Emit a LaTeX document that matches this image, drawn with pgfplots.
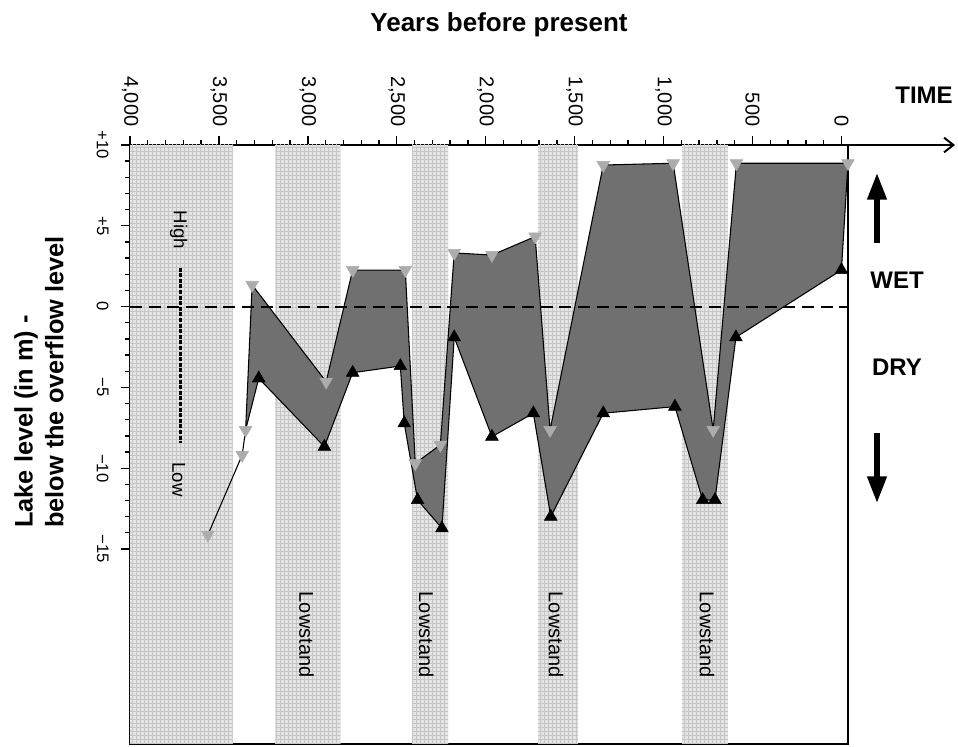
\documentclass[border=0pt]{standalone}
\usepackage{pgfplots}
\pgfplotsset{compat=1.18}
\usepackage{fontspec}
\setmainfont{Liberation Sans}
\usetikzlibrary{patterns,arrows.meta}
\definecolor{fillgray}{RGB}{112,112,112}
\definecolor{tri}{RGB}{172,172,172}
\definecolor{band}{RGB}{228,228,228}
\newcommand\xtl{\fontsize{15}{18}\selectfont}
\newcommand\ytl{\fontsize{12.5}{15}\selectfont}

\pgfplotstableread{
x y
3562 -14.13
3369 -9.18
3350 -7.64
3313 1.34
2897 -4.65
2748 2.26
2452 2.26
2396 -9.70
2255 -8.56
2177 3.32
1965 3.19
1722 4.33
1638 -7.64
1339 8.76
946 8.87
721 -7.64
590 8.87
-37 8.87
}\uppertab

\pgfplotstableread{
x y
3276 -4.44
2907 -8.67
2748 -4.09
2480 -3.68
2458 -7.22
2383 -11.97
2246 -13.72
2177 -1.90
1965 -8.05
1732 -6.60
1634 -13.0
1339 -6.60
936 -6.19
780 -11.97
711 -11.97
593 -1.90
0 2.26
}\lowertab

\begin{document}
\begin{tikzpicture}
\useasboundingbox (-97.5pt,-2.25pt) rectangle (621pt,558pt);
\begin{axis}[
  at={(0pt,0pt)}, anchor=south west,
  scale only axis, width=538.5pt, height=449.25pt,
  x dir=reverse, xmin=-37, xmax=4000, ymin=-27.07, ymax=10,
  clip=false,
  axis line style={line width=1.7pt},
  xtick={0,500,...,4000}, minor x tick num=4,
  xticklabels={\xtl 0,\xtl 500,\xtl 1{,}000,\xtl 1{,}500,\xtl 2{,}000,\xtl 2{,}500,\xtl 3{,}000,\xtl 3{,}500,\xtl 4{,}000},
  ytick={-15,-10,-5,0,5,10},
  yticklabels={\ytl −15,\ytl −10,\ytl −5,\ytl 0,\ytl +5,\ytl +10},
  minor y tick num=4,
  xtick pos=right, xticklabel pos=right,
  ytick pos=left, yticklabel pos=left,
  tick align=outside,
  major tick length=7pt, minor tick length=3.5pt,
  tick style={line width=1pt, black},
  xticklabel shift=3.5pt,
  yticklabel shift=5.5pt,
  xticklabel style={rotate=-90, anchor=east},
  yticklabel style={rotate=-90, anchor=north},
]
% lowstand / shaded bands
\addplot[draw=none, fill=band, postaction={pattern=grid, pattern color=gray!45}]
  coordinates {(4000,-27.07) (3423,-27.07) (3423,10) (4000,10)} -- cycle;
\addplot[draw=none, fill=band, postaction={pattern=grid, pattern color=gray!45}]
  coordinates {(3182,-27.07) (2817,-27.07) (2817,10) (3182,10)} -- cycle;
\addplot[draw=none, fill=band, postaction={pattern=grid, pattern color=gray!45}]
  coordinates {(2413,-27.07) (2211,-27.07) (2211,10) (2413,10)} -- cycle;
\addplot[draw=none, fill=band, postaction={pattern=grid, pattern color=gray!45}]
  coordinates {(1705,-27.07) (1481,-27.07) (1481,10) (1705,10)} -- cycle;
\addplot[draw=none, fill=band, postaction={pattern=grid, pattern color=gray!45}]
  coordinates {(897,-27.07) (638,-27.07) (638,10) (897,10)} -- cycle;

% lake level envelope
\addplot[fill=fillgray, draw=black, line width=0.8pt] coordinates {
 (3350,-7.64) (3313,1.34) (2897,-4.65) (2748,2.26) (2452,2.26) (2396,-9.70)
 (2255,-8.56) (2177,3.32) (1965,3.19) (1722,4.33) (1638,-7.64) (1339,8.76)
 (946,8.87) (721,-7.64) (590,8.87) (-37,8.87)
 (0,2.26) (593,-1.90) (711,-11.97) (780,-11.97) (936,-6.19) (1339,-6.60)
 (1634,-13.0) (1732,-6.60) (1965,-8.05) (2177,-1.90) (2246,-13.72) (2383,-11.97)
 (2458,-7.22) (2480,-3.68) (2748,-4.09) (2907,-8.67) (3276,-4.44)} -- cycle;

% early thin line
\addplot[black, line width=0.8pt] coordinates {(3562,-14.13) (3369,-9.18) (3350,-7.64)};

% overflow level
\addplot[black, line width=1.6pt, dash pattern=on 9pt off 5pt] coordinates {(4000,0) (-37,0)};

% High-Low scale
\addplot[black, line width=2.6pt, dash pattern=on 3pt off 1.2pt] coordinates {(3715,2.41) (3715,-8.42)};

% markers
\addplot[only marks, mark=triangle*, mark size=5.5pt, mark options={fill=tri, draw=tri, rotate=180}] table {\uppertab};
\addplot[only marks, mark=triangle*, mark size=5.5pt, mark options={fill=black, draw=black}] table {\lowertab};

\node[rotate=-90, font=\fontsize{14}{17}\selectfont] at (axis cs:3726,4.74) {High};
\node[rotate=-90, font=\fontsize{14}{17}\selectfont] at (axis cs:3726,-10.7) {Low};
\node[rotate=-90, font=\fontsize{15}{18}\selectfont] at (axis cs:3008,-20.3) {Lowstand};
\node[rotate=-90, font=\fontsize{15}{18}\selectfont] at (axis cs:2334,-20.3) {Lowstand};
\node[rotate=-90, font=\fontsize{15}{18}\selectfont] at (axis cs:1604,-20.3) {Lowstand};
\node[rotate=-90, font=\fontsize{15}{18}\selectfont] at (axis cs:756,-20.3) {Lowstand};
\end{axis}

\begin{scope}[shift={(-97.5pt,558pt)}, x=0.75pt, y=-0.75pt]
\node[font=\bfseries\fontsize{19.5}{23}\selectfont] at (499,25) {Years before present};
\node[rotate=90, anchor=west, align=left, inner sep=0pt, font=\bfseries\fontsize{19}{23}\selectfont] at (39,528) {Lake level (in m) -\\below the overflow level};
\node[font=\bfseries\fontsize{18}{22}\selectfont] at (924,95) {TIME};
\node[font=\bfseries\fontsize{18}{22}\selectfont] at (897,280) {WET};
\node[font=\bfseries\fontsize{18}{22}\selectfont] at (897,367) {DRY};
\draw[line width=1.5pt, -{Straight Barb[length=7pt,width=11pt]}] (848,145) -- (955,145);
\draw[line width=4pt, -{Triangle[length=20pt,width=14pt]}] (877,243) -- (877,173);
\draw[line width=4pt, -{Triangle[length=20pt,width=14pt]}] (877,433) -- (877,503);
\end{scope}
\end{tikzpicture}
\end{document}
